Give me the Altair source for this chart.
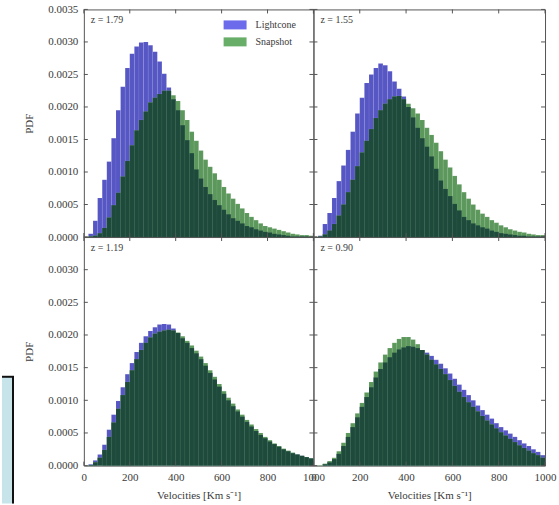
import altair as alt
import pandas as pd

# ---------------- data (PDF values in units of 1e-3) ----------------
bin_lo = list(range(0, 1000, 20))          # bin left edges, km/s
bin_hi = list(range(20, 1020, 20))         # bin right edges, km/s

panel_labels = ["z = 1.79", "z = 1.55", "z = 1.19", "z = 0.90"]
series_names = ["Lightcone", "Snapshot"]

lc_179 = [0.0, 0.05, 0.25, 0.6, 0.88, 1.16, 1.52, 1.95, 2.31, 2.6,
          2.82, 2.93, 2.99, 3.0, 2.95, 2.85, 2.7, 2.51, 2.3, 2.12,
          1.95, 1.72, 1.49, 1.29, 1.04, 0.9, 0.77, 0.66, 0.57, 0.49,
          0.42, 0.35, 0.29, 0.25, 0.21, 0.17, 0.15, 0.12, 0.1, 0.08,
          0.07, 0.05, 0.04, 0.03, 0.02, 0.01, 0.01, 0.01, 0.01, 0.0]
sn_179 = [0.0, 0.01, 0.02, 0.06, 0.14, 0.3, 0.49, 0.68, 0.93, 1.17,
          1.41, 1.64, 1.8, 1.93, 2.07, 2.14, 2.2, 2.25, 2.25, 2.18,
          2.09, 1.95, 1.8, 1.62, 1.48, 1.33, 1.19, 1.08, 0.98, 0.88,
          0.77, 0.67, 0.59, 0.51, 0.44, 0.37, 0.31, 0.26, 0.21, 0.17,
          0.15, 0.13, 0.11, 0.09, 0.07, 0.05, 0.04, 0.03, 0.03, 0.02]

lc_155 = [0.0, 0.02, 0.2, 0.37, 0.6, 0.86, 1.1, 1.34, 1.62, 1.9,
          2.14, 2.37, 2.5, 2.6, 2.67, 2.64, 2.55, 2.39, 2.28, 2.16,
          2.0, 1.84, 1.68, 1.52, 1.39, 1.24, 1.05, 0.87, 0.74, 0.63,
          0.51, 0.41, 0.31, 0.26, 0.21, 0.18, 0.15, 0.13, 0.1, 0.08,
          0.06, 0.05, 0.04, 0.03, 0.02, 0.02, 0.01, 0.01, 0.01, 0.01]
sn_155 = [0.0, 0.01, 0.04, 0.1, 0.2, 0.33, 0.5, 0.69, 0.88, 1.09,
          1.3, 1.48, 1.66, 1.83, 1.95, 2.05, 2.12, 2.16, 2.17, 2.12,
          2.05, 1.98, 1.9, 1.8, 1.68, 1.57, 1.45, 1.32, 1.19, 1.07,
          0.94, 0.81, 0.69, 0.59, 0.5, 0.42, 0.36, 0.31, 0.26, 0.22,
          0.18, 0.15, 0.12, 0.1, 0.08, 0.07, 0.05, 0.04, 0.03, 0.03]

lc_119 = [0.0, 0.02, 0.08, 0.17, 0.32, 0.55, 0.78, 0.99, 1.2, 1.4,
          1.57, 1.74, 1.88, 1.98, 2.06, 2.12, 2.16, 2.17, 2.16, 2.1,
          2.03, 1.95, 1.88, 1.8, 1.72, 1.63, 1.53, 1.42, 1.32, 1.21,
          1.1, 1.0, 0.91, 0.83, 0.75, 0.67, 0.6, 0.53, 0.47, 0.42,
          0.37, 0.33, 0.29, 0.25, 0.22, 0.19, 0.17, 0.15, 0.13, 0.11]
sn_119 = [0.0, 0.01, 0.05, 0.12, 0.24, 0.44, 0.66, 0.87, 1.08, 1.28,
          1.46, 1.63, 1.77, 1.88, 1.96, 2.02, 2.05, 2.07, 2.08, 2.07,
          2.04, 1.98, 1.91, 1.84, 1.76, 1.67, 1.57, 1.46, 1.36, 1.25,
          1.14, 1.04, 0.95, 0.86, 0.78, 0.7, 0.63, 0.56, 0.5, 0.44,
          0.39, 0.34, 0.3, 0.26, 0.23, 0.2, 0.17, 0.15, 0.13, 0.11]

lc_090 = [0.0, 0.0, 0.02, 0.05, 0.1, 0.18, 0.3, 0.44, 0.59, 0.74,
          0.9, 1.05, 1.2, 1.35, 1.48, 1.58, 1.66, 1.73, 1.78, 1.81,
          1.83, 1.82, 1.8, 1.77, 1.73, 1.68, 1.62, 1.56, 1.49, 1.41,
          1.33, 1.24, 1.16, 1.08, 1.0, 0.92, 0.85, 0.78, 0.72, 0.65,
          0.59, 0.54, 0.49, 0.44, 0.39, 0.34, 0.3, 0.25, 0.21, 0.16]
sn_090 = [0.0, 0.01, 0.03, 0.07, 0.12, 0.22, 0.35, 0.5, 0.65, 0.8,
          0.96, 1.12, 1.28, 1.44, 1.58, 1.7, 1.8, 1.88, 1.94, 1.97,
          1.97, 1.93, 1.86, 1.77, 1.7, 1.62, 1.55, 1.48, 1.4, 1.31,
          1.22, 1.13, 1.05, 0.97, 0.9, 0.83, 0.76, 0.69, 0.63, 0.57,
          0.51, 0.46, 0.41, 0.36, 0.31, 0.27, 0.23, 0.19, 0.16, 0.12]

x_ticks = [0, 200, 400, 600, 800, 1000]
y_ticks_top = [0.0, 0.0005, 0.001, 0.0015, 0.002, 0.0025, 0.003, 0.0035]
y_ticks_bottom = [0.0, 0.0005, 0.001, 0.0015, 0.002, 0.0025, 0.003]
x_title = "Velocities [Km s\u207b\u00b9]"
y_title = "PDF"

panels = [(lc_179, sn_179), (lc_155, sn_155), (lc_119, sn_119), (lc_090, sn_090)]

# ---------------- styling ----------------
BLUE = "#5656c4"
GREEN = "#5c985c"
DARK = "#1d4a3b"
LEG_BLUE = "#6b6bec"
LEG_GREEN = "#68ad68"
SERIF = "Liberation Serif"
TXT = "#3a3a3a"
WL, WR = 230, 232
HT, HB = 228, 229


def long_df(lc, sn):
    rows = []
    for name, vals in zip(series_names, (lc, sn)):
        for a, b, v in zip(bin_lo, bin_hi, vals):
            rows.append({"v0": a, "v1": b, "pdf": v * 1e-3, "series": name})
    return pd.DataFrame(rows)


xscale = alt.Scale(domain=[0, 1000], nice=False, zero=False)
yscale = alt.Scale(domain=[0, 0.0035], nice=False)


def make_panel(idx, show_y, show_x, W, H, yt):
    lc, sn = panels[idx]
    base = alt.Chart(long_df(lc, sn))

    if show_x:
        xaxis = alt.Axis(values=x_ticks, format="d", title=x_title, grid=False,
                         ticks=False, domain=False, labelFlush=False, labelOverlap=False,
                         labelFont=SERIF, labelFontSize=11, labelColor=TXT,
                         labelPadding=6, titleFont=SERIF, titleFontSize=11,
                         titleFontWeight="normal", titleColor=TXT, titlePadding=7)
    else:
        xaxis = None
    if show_y:
        yaxis = alt.Axis(values=yt, format=".4f", title=y_title, grid=False,
                         ticks=False, domain=False, labelOverlap=False,
                         labelFont=SERIF, labelFontSize=11, labelColor=TXT,
                         labelPadding=6, titleFont=SERIF, titleFontSize=11,
                         titleFontWeight="normal", titleColor=TXT, titlePadding=13)
    else:
        yaxis = None

    X = lambda f: alt.X(f, scale=xscale, axis=xaxis)
    Y = lambda f: alt.Y(f, scale=yscale, axis=yaxis)

    bars = base.mark_bar(stroke="white", strokeOpacity=0.13, strokeWidth=0.5).encode(
        x=X("v0:Q"),
        x2="v1:Q",
        y=Y("pdf:Q"),
        y2=alt.datum(0),
        color=alt.Color("series:N",
                        scale=alt.Scale(domain=series_names, range=[BLUE, GREEN]),
                        legend=None),
    )
    overlap = base.transform_aggregate(
        pmin="min(pdf)", groupby=["v0", "v1"]
    ).mark_bar(color=DARK, stroke="white", strokeOpacity=0.08, strokeWidth=0.5).encode(
        x=X("v0:Q"),
        x2="v1:Q",
        y=Y("pmin:Q"),
        y2=alt.datum(0),
    )

    xt = alt.Chart(pd.DataFrame({"t": x_ticks}))
    yt_df = alt.Chart(pd.DataFrame({"t": y_ticks_top}))
    tick_style = dict(color="#555", strokeWidth=1)
    ticks = [
        xt.mark_rule(**tick_style).encode(x=X("t:Q"), y=alt.value(0), y2=alt.value(4)),
        xt.mark_rule(**tick_style).encode(x=X("t:Q"), y=alt.value(H - 4), y2=alt.value(H)),
        yt_df.mark_rule(**tick_style).encode(y=Y("t:Q"), x=alt.value(0), x2=alt.value(4)),
        yt_df.mark_rule(**tick_style).encode(y=Y("t:Q"), x=alt.value(W - 4), x2=alt.value(W)),
    ]

    label = alt.Chart(pd.DataFrame({"t": [panel_labels[idx]]})).mark_text(
        align="left", baseline="middle", font=SERIF, fontSize=10, color=TXT
    ).encode(text="t:N", x=alt.value(7), y=alt.value(11))

    layers = [bars, overlap] + ticks + [label]

    if idx == 0:
        for k, (name, col) in enumerate(zip(series_names, [LEG_BLUE, LEG_GREEN])):
            y0 = 11 + 17 * k
            layers.append(
                alt.Chart(pd.DataFrame({"t": [name]})).mark_rect(color=col).encode(
                    x=alt.value(140), x2=alt.value(163), y=alt.value(y0), y2=alt.value(y0 + 9)))
            layers.append(
                alt.Chart(pd.DataFrame({"t": [name]})).mark_text(
                    align="left", baseline="middle", font=SERIF, fontSize=10, color=TXT
                ).encode(text="t:N", x=alt.value(172), y=alt.value(y0 + 4.5)))

    if idx == 2:
        box = pd.DataFrame({"t": ["box"]})
        layers.append(alt.Chart(box).mark_rect(color="#c6e4e9").encode(
            x=alt.value(-82), x2=alt.value(-70), y=alt.value(140), y2=alt.value(267)))
        layers.append(alt.Chart(box).mark_rule(color="#111", strokeWidth=2).encode(
            x=alt.value(-82), x2=alt.value(-70), y=alt.value(140)))
        layers.append(alt.Chart(box).mark_rule(color="#111", strokeWidth=2).encode(
            x=alt.value(-71), y=alt.value(140), y2=alt.value(267)))

    return alt.layer(*layers).properties(width=W, height=H)


tl = make_panel(0, True, False, WL, HT, y_ticks_top)
tr = make_panel(1, False, False, WR, HT, y_ticks_top)
bl = make_panel(2, True, True, WL, HB, y_ticks_bottom)
br = make_panel(3, False, True, WR, HB, y_ticks_bottom)

chart = alt.concat(tl, tr, bl, br, columns=2, spacing=0, bounds="flush").properties(
    padding={"left": 0, "top": 2, "right": 2, "bottom": 0},
    background="white",
).configure_view(stroke="#555", strokeWidth=1)

chart.save("out.html", embed_options={"renderer": "svg", "actions": False})
